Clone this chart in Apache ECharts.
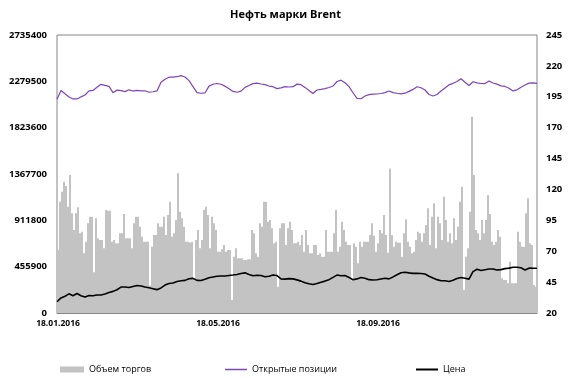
<!DOCTYPE html>
<html>
<head>
<meta charset="utf-8">
<script src="https://cdn.jsdelivr.net/npm/echarts@6/dist/echarts.min.js"></script>
<style>
  html, body { margin: 0; padding: 0; background: #fff; }
  #chart { width: 571px; height: 378px; }
</style>
</head>
<body>
<div id="chart"></div>
<script>
// подписи оси X (каждые 80 торговых дней)
const tickLabels = ['18.01.2016', '18.05.2016', '18.09.2016'];
const rightTicks = [20, 45, 70, 95, 120, 145, 170, 195, 220, 245];

// объем торгов, по дням
const volume = [
  620000, 1095000, 1194000, 1292000, 1250000, 1046000, 1358000, 981000, 817000, 981000,
  1040000, 784000, 800000, 587000, 702000, 883000, 948000, 948000, 400000, 932000,
  735000, 718000, 718000, 636000, 1013000, 1007000, 1007000, 702000, 718000, 686000,
  686000, 784000, 784000, 974000, 735000, 735000, 735000, 636000, 883000, 948000,
  948000, 849000, 751000, 702000, 702000, 702000, 270000, 652000, 768000, 768000,
  883000, 849000, 849000, 948000, 768000, 964000, 1095000, 751000, 784000, 915000,
  1374000, 997000, 932000, 849000, 702000, 702000, 692000, 702000, 341000, 718000,
  817000, 636000, 718000, 1013000, 1046000, 964000, 636000, 948000, 883000, 817000,
  603000, 603000, 627000, 669000, 603000, 620000, 620000, 128000, 554000, 636000,
  538000, 538000, 538000, 521000, 521000, 528000, 528000, 817000, 784000, 587000,
  554000, 883000, 849000, 1095000, 1095000, 899000, 915000, 833000, 686000, 702000,
  259000, 833000, 883000, 883000, 669000, 833000, 899000, 817000, 686000, 686000,
  702000, 669000, 768000, 603000, 817000, 669000, 587000, 587000, 669000, 669000,
  571000, 587000, 554000, 554000, 817000, 603000, 603000, 603000, 784000, 1013000,
  603000, 652000, 899000, 817000, 702000, 669000, 669000, 320000, 686000, 652000,
  489000, 700000, 652000, 702000, 702000, 702000, 768000, 883000, 760000, 603000,
  686000, 817000, 784000, 964000, 768000, 593000, 1423000, 768000, 652000, 702000,
  692000, 692000, 554000, 784000, 922000, 702000, 652000, 587000, 603000, 718000,
  800000, 784000, 702000, 784000, 866000, 1030000, 669000, 948000, 1079000, 636000,
  948000, 883000, 718000, 1145000, 915000, 702000, 784000, 686000, 932000, 718000,
  849000, 1095000, 1243000, 226000, 554000, 636000, 997000, 1932000, 1358000, 817000,
  784000, 718000, 915000, 784000, 915000, 1161000, 974000, 702000, 669000, 702000,
  817000, 751000, 341000, 325000, 325000, 292000, 505000, 292000, 292000, 292000,
  800000, 702000, 652000, 652000, 981000, 1128000, 686000, 669000, 276000, 259000
];

// открытые позиции
const openInterest = [
  2103000, 2190000, 2157000, 2126000, 2106000, 2106000, 2127000, 2145000, 2185000, 2190000,
  2221000, 2250000, 2239000, 2230000, 2168000, 2193000, 2188000, 2178000, 2196000, 2184000,
  2190000, 2185000, 2187000, 2172000, 2177000, 2185000, 2270000, 2300000, 2320000, 2321000,
  2325000, 2335000, 2322000, 2286000, 2228000, 2168000, 2162000, 2165000, 2232000, 2251000,
  2258000, 2251000, 2232000, 2206000, 2180000, 2172000, 2183000, 2220000, 2238000, 2257000,
  2262000, 2253000, 2247000, 2233000, 2227000, 2208000, 2215000, 2227000, 2224000, 2227000,
  2252000, 2247000, 2220000, 2190000, 2160000, 2194000, 2200000, 2208000, 2219000, 2233000,
  2278000, 2291000, 2265000, 2228000, 2167000, 2111000, 2108000, 2135000, 2149000, 2153000,
  2155000, 2160000, 2168000, 2185000, 2168000, 2162000, 2157000, 2163000, 2181000, 2200000,
  2226000, 2216000, 2194000, 2150000, 2135000, 2150000, 2184000, 2214000, 2245000, 2260000,
  2278000, 2305000, 2270000, 2238000, 2275000, 2264000, 2258000, 2257000, 2283000, 2263000,
  2252000, 2235000, 2229000, 2212000, 2185000, 2196000, 2222000, 2244000, 2262000, 2265000,
  2260000
];

// цена
const price = [
  29.1, 32.2, 33.6, 35.5, 34.0, 35.8, 34.0, 32.9, 34.2, 33.9,
  34.6, 34.6, 35.4, 36.6, 37.5, 38.8, 41.0, 41.0, 40.7, 41.5,
  42.2, 41.8, 41.0, 40.4, 39.7, 38.9, 40.3, 42.6, 43.9, 44.3,
  45.5, 46.1, 46.4, 47.7, 48.0, 46.4, 46.3, 47.3, 48.6, 49.2,
  49.7, 49.9, 49.9, 50.4, 50.7, 51.1, 51.9, 52.5, 51.2, 50.2,
  50.5, 50.3, 49.3, 49.7, 50.7, 50.3, 47.6, 47.4, 47.8, 47.6,
  46.8, 45.8, 44.5, 43.7, 43.0, 43.8, 44.9, 45.8, 47.0, 48.8,
  50.7, 50.2, 50.3, 48.8, 46.9, 47.6, 48.7, 48.1, 47.0, 46.7,
  46.9, 47.5, 48.1, 47.6, 49.2, 51.0, 52.6, 53.0, 52.5, 52.1,
  52.1, 52.0, 51.6, 49.8, 48.3, 47.0, 46.1, 46.1, 45.5, 46.5,
  48.0, 48.8, 48.1, 47.4, 53.5, 55.4, 54.4, 55.0, 55.6, 55.6,
  54.8, 55.1, 55.9, 56.3, 57.0, 57.0, 56.6, 54.8, 56.3, 56.2,
  56.2
];

const barDays = volume.map((v, i) => i);
const lineDays = price.map((v, i) => i);

const axisColor = '#868686';
const fontFam = '"Open Sans", "Noto Sans", sans-serif';
const legendText = { fontFamily: fontFam, fontSize: 9, color: '#000' };

const chart = echarts.init(document.getElementById('chart'));
chart.setOption({
  animation: false,
  title: {
    text: 'Нефть марки Brent',
    left: 'center',
    top: 4,
    textStyle: { fontFamily: fontFam, fontSize: 11, fontWeight: 'bold', color: '#000' }
  },
  grid: {
    left: 57, right: 34, top: 35, bottom: 65,
    show: true, borderColor: axisColor, borderWidth: 1
  },
  legend: [
    {
      data: ['Объем торгов'], left: 60, top: 365, padding: 0, itemGap: 0,
      icon: 'rect', itemWidth: 24, itemHeight: 6, textStyle: legendText
    },
    {
      data: ['Открытые позиции'], left: 225, top: 365, padding: 0,
      icon: 'rect', itemWidth: 22, itemHeight: 1.5, textStyle: legendText
    },
    {
      data: ['Цена'], left: 416, top: 365, padding: 0,
      icon: 'rect', itemWidth: 22, itemHeight: 2, textStyle: legendText
    }
  ],
  xAxis: [
    {
      type: 'category',
      data: barDays,
      boundaryGap: true,
      axisLine: { lineStyle: { color: axisColor } },
      axisTick: { interval: 79, length: 4, lineStyle: { color: axisColor } },
      axisLabel: {
        interval: 79,
        margin: 6,
        fontFamily: fontFam, fontSize: 8.5, fontWeight: 'bold', color: '#000',
        formatter: (v, i) => tickLabels[Math.round(i / 80)] || ''
      },
      splitLine: { show: false }
    },
    {
      type: 'category',
      data: lineDays,
      boundaryGap: false,
      show: false
    }
  ],
  yAxis: [
    {
      type: 'value',
      min: 0, max: 2735400, interval: 455900,
      axisLine: { show: false },
      axisTick: { show: false },
      splitLine: { show: false },
      axisLabel: {
        margin: 10, fontFamily: fontFam, fontSize: 9.5, fontWeight: 'bold', color: '#000',
        formatter: v => String(v)
      }
    },
    {
      type: 'value',
      position: 'right',
      min: 20, max: 245,
      axisLine: { show: false },
      axisTick: { show: false },
      splitLine: { show: false },
      axisLabel: {
        customValues: rightTicks,
        margin: 9, fontFamily: fontFam, fontSize: 9.5, fontWeight: 'bold', color: '#000'
      }
    }
  ],
  series: [
    {
      name: 'Объем торгов',
      type: 'bar',
      xAxisIndex: 0, yAxisIndex: 0,
      data: volume,
      barCategoryGap: '0%',
      itemStyle: { color: '#c3c3c3' }
    },
    {
      name: 'Открытые позиции',
      type: 'line',
      xAxisIndex: 1, yAxisIndex: 0,
      data: openInterest,
      symbol: 'none',
      lineStyle: { color: '#7b45c0', width: 1.2 },
      itemStyle: { color: '#7b45c0' }
    },
    {
      name: 'Цена',
      type: 'line',
      xAxisIndex: 1, yAxisIndex: 1,
      data: price,
      symbol: 'none',
      lineStyle: { color: '#000', width: 1.6 },
      itemStyle: { color: '#000' }
    }
  ]
});
</script>
</body>
</html>
